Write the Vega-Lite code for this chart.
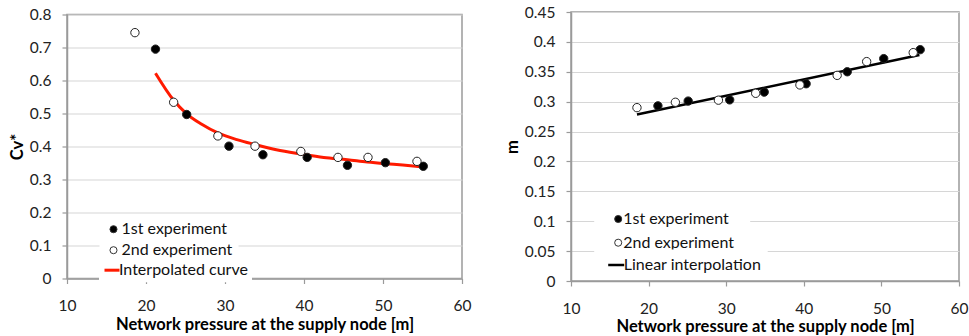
{
  "$schema": "https://vega.github.io/schema/vega-lite/v6.json",
  "padding": {"left": 8, "top": 4, "right": 2, "bottom": 0},
  "background": "white",
  "config": {
    "font": "Lato",
    "view": {"stroke": "#9a9a9a", "strokeWidth": 1.5},
    "axis": {
      "domainColor": "#9a9a9a", "domainWidth": 1.5,
      "tickColor": "#9a9a9a", "tickSize": 5, "tickWidth": 1.2,
      "labelFont": "Lato", "labelFontSize": 15.5, "labelColor": "#222", "labelPadding": 11, "labelOverlap": false,
      "titleFont": "Lato", "titleFontSize": 16.5, "titleFontWeight": "bold", "titleColor": "#000",
      "gridColor": "#d6d6d6", "gridWidth": 1.2
    },
    "axisX": {"grid": false, "zindex": 3, "titlePadding": 2, "labelPadding": 15, "labelFlush": false},
    "axisY": {"titlePadding": 4, "zindex": 0},
    "legend": {"labelFont": "Lato", "labelFontSize": 16, "labelColor": "#111", "fillColor": "white", "orient": "none", "title": null}
  },
  "datasets": {
    "left": [
      {"x": 21.2, "y": 0.695, "series": "1st experiment"},
      {"x": 25.15, "y": 0.497, "series": "1st experiment"},
      {"x": 30.5, "y": 0.401, "series": "1st experiment"},
      {"x": 34.8, "y": 0.375, "series": "1st experiment"},
      {"x": 40.4, "y": 0.367, "series": "1st experiment"},
      {"x": 45.5, "y": 0.343, "series": "1st experiment"},
      {"x": 50.3, "y": 0.351, "series": "1st experiment"},
      {"x": 55.1, "y": 0.340, "series": "1st experiment"},
      {"x": 18.6, "y": 0.745, "series": "2nd experiment"},
      {"x": 23.5, "y": 0.534, "series": "2nd experiment"},
      {"x": 29.1, "y": 0.432, "series": "2nd experiment"},
      {"x": 33.8, "y": 0.401, "series": "2nd experiment"},
      {"x": 39.6, "y": 0.385, "series": "2nd experiment"},
      {"x": 44.3, "y": 0.367, "series": "2nd experiment"},
      {"x": 48.1, "y": 0.367, "series": "2nd experiment"},
      {"x": 54.3, "y": 0.355, "series": "2nd experiment"},
      {"x": 21.2, "y": 0.622, "series": "Interpolated curve"},
      {"x": 23.5, "y": 0.54, "series": "Interpolated curve"},
      {"x": 25.15, "y": 0.499, "series": "Interpolated curve"},
      {"x": 27.0, "y": 0.468, "series": "Interpolated curve"},
      {"x": 29.1, "y": 0.441, "series": "Interpolated curve"},
      {"x": 31.5, "y": 0.421, "series": "Interpolated curve"},
      {"x": 33.8, "y": 0.406, "series": "Interpolated curve"},
      {"x": 36.5, "y": 0.390, "series": "Interpolated curve"},
      {"x": 39.7, "y": 0.377, "series": "Interpolated curve"},
      {"x": 42.5, "y": 0.367, "series": "Interpolated curve"},
      {"x": 45.5, "y": 0.360, "series": "Interpolated curve"},
      {"x": 48.0, "y": 0.353, "series": "Interpolated curve"},
      {"x": 50.3, "y": 0.348, "series": "Interpolated curve"},
      {"x": 52.5, "y": 0.344, "series": "Interpolated curve"},
      {"x": 54.7, "y": 0.339, "series": "Interpolated curve"}
    ],
    "right": [
      {"x": 21.2, "y": 0.293, "series": "1st experiment"},
      {"x": 25.1, "y": 0.301, "series": "1st experiment"},
      {"x": 30.45, "y": 0.303, "series": "1st experiment"},
      {"x": 34.9, "y": 0.316, "series": "1st experiment"},
      {"x": 40.3, "y": 0.330, "series": "1st experiment"},
      {"x": 45.6, "y": 0.350, "series": "1st experiment"},
      {"x": 50.3, "y": 0.372, "series": "1st experiment"},
      {"x": 55.0, "y": 0.387, "series": "1st experiment"},
      {"x": 18.5, "y": 0.290, "series": "2nd experiment"},
      {"x": 23.45, "y": 0.299, "series": "2nd experiment"},
      {"x": 29.0, "y": 0.3025, "series": "2nd experiment"},
      {"x": 33.8, "y": 0.314, "series": "2nd experiment"},
      {"x": 39.5, "y": 0.328, "series": "2nd experiment"},
      {"x": 44.3, "y": 0.344, "series": "2nd experiment"},
      {"x": 48.1, "y": 0.367, "series": "2nd experiment"},
      {"x": 54.1, "y": 0.382, "series": "2nd experiment"},
      {"x": 18.5, "y": 0.2785, "series": "Linear interpolation"},
      {"x": 54.9, "y": 0.378, "series": "Linear interpolation"}
    ]
  },
  "hconcat": [
    {
      "width": 395,
      "height": 264,
      "data": {"name": "left"},
      "encoding": {
        "x": {"field": "x", "type": "quantitative", "scale": {"domain": [10, 60], "nice": false}, "axis": {"values": [10, 20, 30, 40, 50, 60], "title": "Network pressure at the supply node [m]"}},
        "y": {"field": "y", "type": "quantitative", "scale": {"domain": [0, 0.8], "nice": false}, "axis": {"values": [0, 0.1, 0.2, 0.3, 0.4, 0.5, 0.6, 0.7, 0.8], "format": "~g", "title": "Cv*"}}
      },
      "layer": [
        {
          "transform": [{"filter": "datum.series === 'Interpolated curve'"}],
          "mark": {"type": "line", "strokeWidth": 3, "interpolate": "monotone"},
          "encoding": {
            "stroke": {
              "field": "series", "type": "nominal",
              "scale": {"domain": ["Interpolated curve"], "range": ["#ff1a00"]},
              "legend": {"legendX": 32, "legendY": 242.7, "padding": 4, "labelOffset": -2, "symbolType": "stroke", "symbolSize": 225, "symbolStrokeWidth": 3, "zindex": 2}
            }
          }
        },
        {
          "transform": [{"filter": "datum.series !== 'Interpolated curve'"}],
          "mark": {"type": "point", "shape": "circle", "filled": true, "size": 70, "stroke": "#222", "strokeWidth": 1, "opacity": 1},
          "encoding": {
            "fill": {
              "field": "series", "type": "nominal",
              "scale": {"domain": ["1st experiment", "2nd experiment"], "range": ["#000000", "#ffffff"]},
              "legend": {"legendX": 32.5, "legendY": 200.7, "padding": 6, "rowPadding": 5, "labelOffset": 0, "symbolType": "circle", "symbolSize": 50, "symbolStrokeColor": "#333333", "symbolStrokeWidth": 1, "zindex": 1}
            }
          }
        }
      ]
    },
    {
      "width": 388,
      "height": 269,
      "data": {"name": "right"},
      "encoding": {
        "x": {"field": "x", "type": "quantitative", "scale": {"domain": [10, 60], "nice": false}, "axis": {"values": [10, 20, 30, 40, 50, 60], "title": "Network pressure at the supply node [m]"}},
        "y": {"field": "y", "type": "quantitative", "scale": {"domain": [0, 0.45], "nice": false}, "axis": {"values": [0, 0.05, 0.1, 0.15, 0.2, 0.25, 0.3, 0.35, 0.4, 0.45], "format": "~g", "title": "m"}}
      },
      "layer": [
        {
          "transform": [{"filter": "datum.series === 'Linear interpolation'"}],
          "mark": {"type": "line", "strokeWidth": 2.5},
          "encoding": {
            "stroke": {
              "field": "series", "type": "nominal",
              "scale": {"domain": ["Linear interpolation"], "range": ["#000000"]},
              "legend": {"legendX": 29.7, "legendY": 237.5, "padding": 6, "labelOffset": -2, "symbolType": "stroke", "symbolSize": 256, "symbolStrokeWidth": 2.5, "zindex": 2}
            }
          }
        },
        {
          "transform": [{"filter": "datum.series !== 'Linear interpolation'"}],
          "mark": {"type": "point", "shape": "circle", "filled": true, "size": 70, "stroke": "#222", "strokeWidth": 1, "opacity": 1},
          "encoding": {
            "fill": {
              "field": "series", "type": "nominal",
              "scale": {"domain": ["1st experiment", "2nd experiment"], "range": ["#000000", "#ffffff"]},
              "legend": {"legendX": 23.2, "legendY": 183, "padding": 16, "rowPadding": 7.7, "labelOffset": -3, "symbolType": "circle", "symbolSize": 50, "symbolStrokeColor": "#333333", "symbolStrokeWidth": 1, "zindex": 1}
            }
          }
        }
      ]
    }
  ],
  "resolve": {
    "scale": {"x": "independent", "y": "independent", "fill": "independent", "stroke": "independent"},
    "axis": {"x": "independent", "y": "independent"},
    "legend": {"fill": "independent", "stroke": "independent"}
  },
  "spacing": 109,
  "bounds": "flush",
  "center": true
}
